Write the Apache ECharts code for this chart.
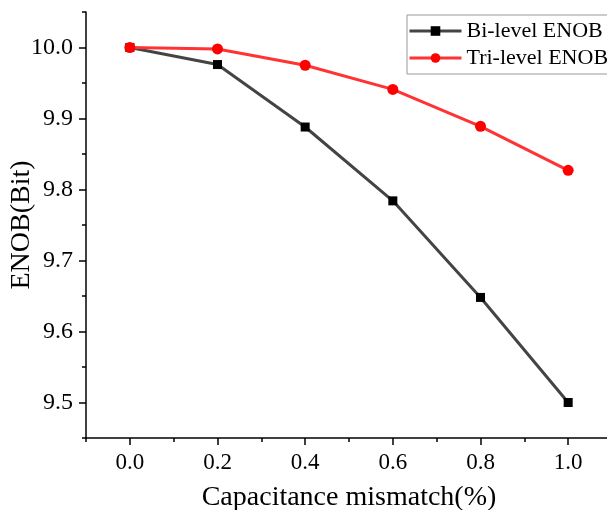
<!DOCTYPE html>
<html>
<head>
<meta charset="utf-8">
<script src="https://cdn.jsdelivr.net/npm/echarts@6/dist/echarts.min.js"></script>
<style>html,body{margin:0;padding:0;background:#fff}#c{width:607px;height:510px}</style>
</head>
<body>
<div id="c"></div>
<script>
const xValues = [0.0, 0.2, 0.4, 0.6, 0.8, 1.0];
const biLevel = [10.000, 9.976, 9.888, 9.784, 9.648, 9.500];
const triLevel = [10.000, 9.998, 9.975, 9.941, 9.889, 9.827];
const xMajor = [0.0, 0.2, 0.4, 0.6, 0.8, 1.0];
const xMinor = [-0.1, 0.1, 0.3, 0.5, 0.7, 0.9, 1.1];
const yMajor = [9.5, 9.6, 9.7, 9.8, 9.9, 10.0];
const yMinor = [9.45, 9.55, 9.65, 9.75, 9.85, 9.95, 10.05];
const seriesNames = ['Bi-level ENOB', 'Tri-level ENOB'];

const FONT = '"Liberation Serif","Times New Roman",serif';
const chart = echarts.init(document.getElementById('c'), null, {renderer: 'canvas'});
const axisLineStyle = {color: '#000', width: 1.5};
chart.setOption({
  animation: false,
  backgroundColor: '#fff',
  grid: {left: 86, top: 12, width: 526, height: 426, containLabel: false, outerBoundsMode: 'none'},
  legend: {
    orient: 'vertical', left: 407, top: 15,
    itemWidth: 52, itemHeight: 12, itemGap: 5,
    padding: [5, 20, 5, 1],
    borderColor: '#999', borderWidth: 1,
    lineStyle: {width: 3},
    textStyle: {fontFamily: FONT, fontSize: 22, color: '#000'},
    data: seriesNames
  },
  xAxis: [{
    type: 'value', min: -0.1, max: 1.1, position: 'bottom',
    name: 'Capacitance mismatch(%)', nameLocation: 'middle', nameGap: 46,
    nameTextStyle: {fontFamily: FONT, fontSize: 28, color: '#000'},
    axisLine: {show: true, onZero: false, lineStyle: axisLineStyle},
    axisTick: {show: true, customValues: xMajor, length: 7, lineStyle: {color: '#000', width: 1.5}},
    axisLabel: {customValues: xMajor, fontFamily: FONT, fontSize: 23, color: '#000', margin: 13,
      formatter: v => v.toFixed(1)},
    splitLine: {show: false}
  }, {
    type: 'value', min: -0.1, max: 1.1, position: 'bottom', offset: 0,
    axisLine: {show: false, onZero: false},
    axisTick: {show: true, customValues: xMinor, length: 4, lineStyle: {color: '#000', width: 1.5}},
    axisLabel: {show: false},
    splitLine: {show: false}
  }],
  yAxis: [{
    type: 'value', min: 9.45, max: 10.05, position: 'left',
    name: 'ENOB(Bit)', nameLocation: 'middle', nameGap: 50, nameMoveOverlap: false,
    nameTextStyle: {fontFamily: FONT, fontSize: 28, color: '#000'},
    axisLine: {show: true, onZero: false, lineStyle: axisLineStyle},
    axisTick: {show: true, customValues: yMajor, length: 7, lineStyle: {color: '#000', width: 1.5}},
    axisLabel: {customValues: yMajor, fontFamily: FONT, fontSize: 24, color: '#000', margin: 13,
      formatter: v => v.toFixed(1)},
    splitLine: {show: false}
  }, {
    type: 'value', min: 9.45, max: 10.05, position: 'left', offset: 0,
    axisLine: {show: false, onZero: false},
    axisTick: {show: true, customValues: yMinor, length: 4, lineStyle: {color: '#000', width: 1.5}},
    axisLabel: {show: false},
    splitLine: {show: false}
  }],
  series: [{
    name: seriesNames[0], type: 'line', xAxisIndex: 0, yAxisIndex: 0,
    data: xValues.map((x, i) => [x, biLevel[i]]),
    symbol: 'rect', symbolSize: 9,
    lineStyle: {color: '#444', width: 3},
    itemStyle: {color: '#000'},
    z: 2
  }, {
    name: seriesNames[1], type: 'line', xAxisIndex: 0, yAxisIndex: 0,
    data: xValues.map((x, i) => [x, triLevel[i]]),
    symbol: 'circle', symbolSize: 11,
    lineStyle: {color: '#ff3333', width: 3},
    itemStyle: {color: '#ff0000'},
    z: 3
  }]
});
</script>
</body>
</html>
